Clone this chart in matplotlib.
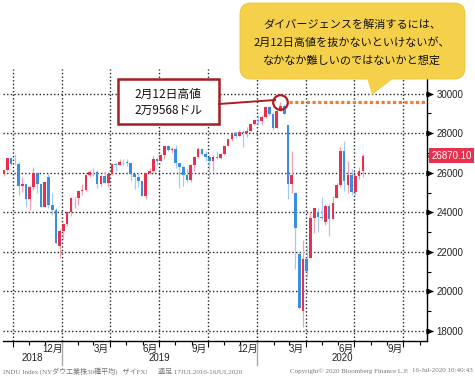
import matplotlib
matplotlib.use("Agg")
import matplotlib.pyplot as plt
import matplotlib.transforms as mtrans
from matplotlib.patches import FancyBboxPatch, Polygon, Rectangle
import pandas as pd

plt.rcParams['font.family'] = ['Liberation Sans', 'Noto Sans CJK JP']

# weekly NY Dow candles (week ending Friday), Sep 2018 - Jul 2020
opens = [25917, 26154, 26743, 26458, 26447, 25340, 25444, 24688, 25271, 25989,
         25413, 24286, 25780, 24389, 24101, 22317, 23062,
         23433, 23996, 24706, 24737, 25064, 25106, 25883, 26032, 26026, 25450,
         25849, 25502, 25929, 26425, 26412, 26560, 26543, 26505, 25942, 25764,
         25586, 24815, 25984, 26090, 26719, 26600, 26922, 27332, 27154, 27192,
         26485, 26287, 25886, 25629, 26403, 26797, 27220, 26935, 26820, 26574,
         26817, 26770, 26958, 27347, 27681, 28005, 27876, 28051, 28015, 28135,
         28455, 28645,
         28635, 28824, 29348, 28990, 28256, 29103, 29398, 28402, 25409, 24992,
         21900, 19028, 21637, 21700, 23719, 24000, 23775, 23500, 24331, 23685,
         24700, 25383, 27111, 25400, 25871, 25016, 25827, 26075]
highs = [26154, 26769, 26801, 26951, 26551, 25794, 25444, 25380, 26277, 26000,
         25413, 25539, 25980, 24984, 24200, 23138, 23471,
         24080, 24750, 24760, 25140, 25439, 25930, 26150, 26241, 26156, 25910,
         26109, 25950, 26480, 26480, 26695, 26696, 26680, 26505, 25950, 25990,
         25600, 26050, 26250, 26900, 26800, 26966, 27360, 27399, 27300, 27400,
         26500, 26380, 26250, 26420, 26850, 27300, 27220, 27100, 26950, 26900,
         27100, 26970, 27350, 27700, 28005, 28090, 28175, 28150, 28290, 28400,
         28700, 28900,
         28900, 29380, 29374, 29000, 29150, 29568, 29450, 28402, 27102, 25020,
         22000, 22595, 22327, 24008, 24242, 24200, 24764, 24400, 24400, 24800,
         25500, 27300, 27580, 26600, 26200, 26000, 26300, 26950]
lows = [25850, 26100, 26399, 26380, 24899, 25050, 24268, 24122, 25146, 24968,
        24268, 24286, 24242, 23881, 22397, 21713, 22638,
        23303, 23830, 24235, 24360, 24880, 25060, 25800, 25860, 25208, 25350,
        25500, 25300, 25900, 26100, 26380, 26380, 26350, 25600, 25200, 25300,
        24800, 24680, 25950, 26000, 26400, 26580, 26700, 27100, 27000, 26250,
        25250, 25340, 25550, 25550, 26100, 26750, 26900, 26600, 25743, 26100,
        26700, 26680, 26900, 27350, 27600, 27750, 27860, 27325, 27800, 28100,
        28400, 28400,
        28400, 28750, 28900, 28170, 28256, 29100, 28950, 24681, 25000, 21154,
        19094, 18213, 20735, 21693, 22942, 23000, 23600, 23360, 22790, 23685,
        24700, 25300, 25100, 25000, 24900, 24900, 25700, 25800]
closes = [26154, 26743, 26458, 26447, 25340, 25444, 24688, 25271, 25989, 25413,
          24286, 25538, 24389, 24101, 22445, 23062, 23433,
          23996, 24706, 24737, 25064, 25106, 25883, 26032, 26026, 25450, 25849,
          25502, 25929, 26425, 26412, 26560, 26543, 26505, 25942, 25764, 25586,
          24815, 25984, 26090, 26719, 26600, 26922, 27332, 27154, 27192, 26485,
          26287, 25886, 25629, 26403, 26797, 27220, 26935, 26820, 26574, 26817,
          26770, 26958, 27347, 27681, 28005, 27876, 28051, 28015, 28135, 28455,
          28645, 28635,
          28824, 29348, 28990, 28256, 29103, 29398, 28992, 25409, 25865, 23186,
          19174, 21637, 21053, 23719, 24242, 23775, 23724, 24331, 23685, 24465,
          25383, 27111, 25606, 25871, 25016, 25827, 26075, 26870.10]
weeks = pd.date_range('2018-09-14', periods=len(closes), freq='W-FRI')

peak_date = pd.Timestamp('2020-02-12')
peak_value = 29568
last_label = '26870.10'

y_ticks = [18000, 20000, 22000, 24000, 26000, 28000, 30000]
month_labels = ['12月', '3月', '6月', '9月', '12月', '3月', '6月', '9月']
month_label_dates = ['2018-12-15', '2019-03-15', '2019-06-15', '2019-09-15',
                     '2019-12-15', '2020-03-15', '2020-06-15', '2020-09-15']
year_labels = ['2018', '2019', '2020']
callout_lines = ['ダイバージェンスを解消するには、',
                 '2月12日高値を抜かないといけないが、',
                 'なかなか難しいのではないかと想定']
box_lines = ['2月12日高値', '2万9568ドル']

W, H = 475, 376
fig = plt.figure(figsize=(W / 100, H / 100), dpi=100)
ax = fig.add_axes([3 / W, 1 - 341 / H, 424 / W, 272 / H])

x0 = pd.Timestamp('2018-09-13')
x1 = pd.Timestamp('2020-11-14')
ax.set_xlim(x0, x1)
ax.set_ylim(17496, 31244)

up_body, up_wick = '#e6304f', '#f0a0b0'
dn_body, dn_wick = '#3b8de0', '#a3cbf2'
body_w = pd.Timedelta(days=5)
for d, o, h, l, c in zip(weeks, opens, highs, lows, closes):
    up = c >= o
    ax.vlines(d, l, h, color=up_wick if up else dn_wick, lw=0.9, zorder=3)
    ax.bar(d, max(abs(c - o), 15), bottom=min(o, c), width=body_w,
           color=up_body if up else dn_body, lw=0, zorder=4)

# grid
quarters = pd.date_range('2018-10-01', '2020-10-01', freq='QS')
months = pd.date_range('2018-10-01', '2020-11-01', freq='MS')
ax.set_xticks(quarters)
ax.set_xticks(months, minor=True)
ax.set_xticklabels([])
ax.tick_params(axis='x', which='major', length=4, width=0.8, direction='out')
ax.tick_params(axis='x', which='minor', length=3, width=0.8, direction='out')
for q in quarters:
    ax.axvline(q, color='#222222', lw=1.0, ls=(0, (1, 1.6)), zorder=1)
for v in y_ticks:
    ax.axhline(v, color='#222222', lw=1.0, ls=(0, (1, 1.6)), zorder=1)

ax.yaxis.tick_right()
ax.set_yticks(y_ticks)
ax.set_yticks(range(19000, 31000, 2000), minor=True)
ax.tick_params(axis='y', which='major', length=4, width=0.9, pad=3,
               labelsize=7, labelcolor='#222222')
ax.tick_params(axis='y', which='minor', length=3, width=0.8)
for s in ['left', 'top']:
    ax.spines[s].set_visible(False)
for s in ['right', 'bottom']:
    ax.spines[s].set_linewidth(1.0)

ty = mtrans.blended_transform_factory(ax.transAxes, ax.transData)
ax.plot([1.004] * len(y_ticks), y_ticks, ls='none', marker='>', ms=3.5,
        color='black', transform=ty, clip_on=False)

tx = mtrans.blended_transform_factory(ax.transData, ax.transAxes)
for lab, d in zip(month_labels, month_label_dates):
    ax.text(pd.Timestamp(d), -0.028, lab, transform=tx, ha='center', va='center',
            fontsize=7, color='#222222')
year_edges = [x0, pd.Timestamp('2019-01-01'), pd.Timestamp('2020-01-01'), x1]
for i, lab in enumerate(year_labels):
    mid = year_edges[i] + (year_edges[i + 1] - year_edges[i]) / 2
    ax.text(mid, -0.064, lab, transform=tx, ha='center', va='center',
            fontsize=7, color='#222222')
for d in year_edges[1:3]:
    ax.plot([d, d], [0, -0.09], color='#aaaaaa', lw=1.0, transform=tx,
            clip_on=False)

# last price tag
ax.text(1.01, closes[-1], last_label, transform=ty, ha='left', va='center',
        fontsize=7, color='white',
        bbox=dict(boxstyle='square,pad=0.25', fc='#e8304f', ec='none'))
ax.plot([1.008], [closes[-1]], marker='<', ms=5, color='#e8304f',
        transform=ty, clip_on=False, ls='none')

# peak marker and resistance line
ax.plot([peak_date + pd.Timedelta(days=2)], [peak_value], marker='o', ms=10.5,
        mfc='none', mec='#b01c24', mew=1.6, zorder=6)
ax.plot([peak_date + pd.Timedelta(days=17), x1], [peak_value, peak_value],
        color='#ee7d31', lw=2.3, ls=(0, (1, 0.8)), zorder=5)

# overlay in pixel coords
ov = fig.add_axes([0, 0, 1, 1])
ov.set_xlim(0, W)
ov.set_ylim(H, 0)
ov.axis('off')

yellow = '#f5d04b'
ov.add_patch(FancyBboxPatch((240, 3), 225, 76, boxstyle='round,pad=0,rounding_size=11',
                            fc=yellow, ec='#e8c23a', lw=0.6))
ov.add_patch(Polygon([(367, 78), (394, 78), (372, 95)], closed=True, fc=yellow,
                     ec='none'))
for i, line in enumerate(callout_lines):
    ov.text(352, 25 + i * 18, line, ha='center', va='center', fontsize=8,
            family=['Noto Sans CJK JP'], color='#111111')

ov.plot([219, 275], [104, 100], color='#b01c24', lw=1.4)
ov.add_patch(Rectangle((118, 79), 101, 45, fc='white', ec='#a31f22', lw=1.8))
for i, line in enumerate(box_lines):
    ov.text(168, 94 + i * 16, line, ha='center', va='center', fontsize=8.5,
            family=['Noto Sans CJK JP'], color='#111111')

foot = dict(fontsize=5, color='#777777', va='center',
            family=['Liberation Serif', 'Noto Sans CJK JP'])
ov.text(3, 371, 'INDU Index (NYダウ工業株30種平均)   ザイFX!      週足 17JUL2016-16JUL2020',
        ha='left', **foot)
ov.text(290, 371, 'Copyright© 2020 Bloomberg Finance L.P.', ha='left', **foot)
ov.text(473, 371, '16-Jul-2020 10:40:43', ha='right', **foot)

fig.savefig('out.png', dpi=100)
